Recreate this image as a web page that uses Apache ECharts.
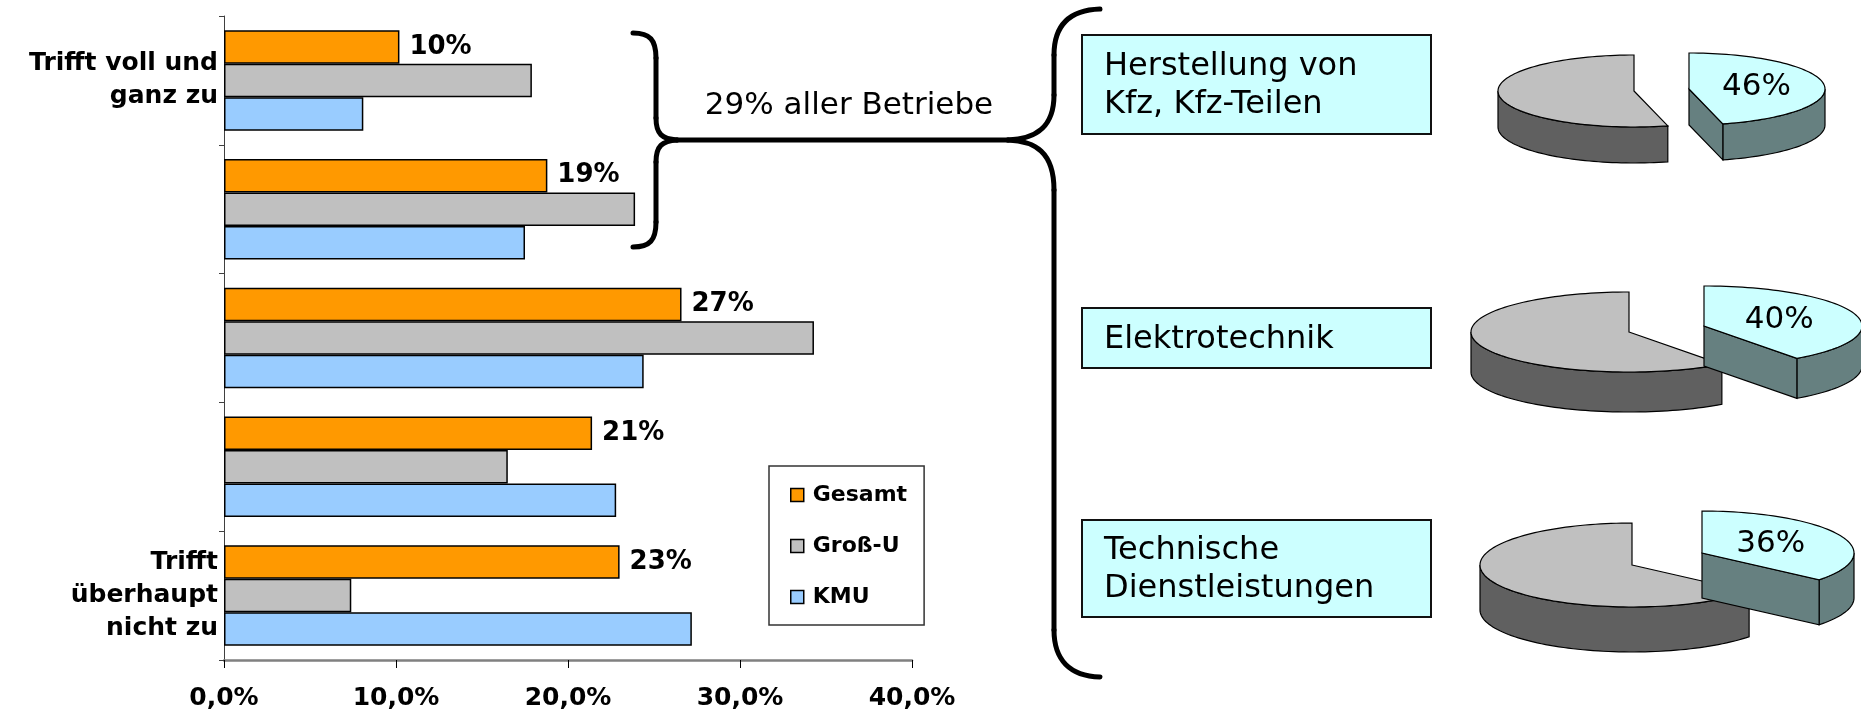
<!DOCTYPE html>
<html>
<head>
<meta charset="utf-8">
<title>Betriebe</title>
<script src="https://cdn.jsdelivr.net/npm/echarts@6/dist/echarts.min.js"></script>
<style>html,body{margin:0;padding:0;background:#fff;}</style>
</head>
<body>
<div id="main" style="width:1861px;height:714px;"></div>
<script type="text/javascript">
// Balkendiagramm: Anteile in Prozent
var categories = ['Trifft voll und\nganz zu', '', '', '', 'Trifft\nüberhaupt\nnicht zu'];
var gesamt = [10.2, 18.8, 26.6, 21.4, 23.0];
var grossU = [17.9, 23.9, 34.3, 16.5, 7.4];
var kmu = [8.1, 17.5, 24.4, 22.8, 27.2];
var xTicks = [0, 10, 20, 30, 40];

// Branchen rechts mit Tortendiagrammen
var branchen = ['Herstellung von\nKfz, Kfz-Teilen', 'Elektrotechnik', 'Technische\nDienstleistungen'];
var branchenAnteil = [46, 40, 36];

var FONT = '"DejaVu Sans", Verdana, sans-serif';

// Lage der Kästen und Torten (nur Layout)
var boxes = [{y: 35, h: 99}, {y: 308, h: 60}, {y: 520, h: 97}];
var pieLayout = [
    {cx: 1634, cy: 91, rx: 136, ry: 36, depth: 36, dx: 55, dy: -2},
    {cx: 1629, cy: 332, rx: 158, ry: 40, depth: 40, dx: 75, dy: -6},
    {cx: 1632, cy: 565, rx: 152, ry: 42, depth: 45, dx: 70, dy: -12}
];

var myChart = echarts.init(document.getElementById('main'), null, {renderer: 'canvas'});

function ellPt(cx, cy, rx, ry, deg) {
    var a = deg * Math.PI / 180;
    return [cx + rx * Math.sin(a), cy - ry * Math.cos(a)];
}
function arcPts(cx, cy, rx, ry, a0, a1, off) {
    var n = Math.max(2, Math.ceil(Math.abs(a1 - a0) / 2) + 1);
    var pts = [];
    for (var k = 0; k < n; k++) {
        var p = ellPt(cx, cy, rx, ry, a0 + (a1 - a0) * k / (n - 1));
        pts.push([p[0], p[1] + off]);
    }
    return pts;
}
function poly(points, fill) {
    return {type: 'polygon', shape: {points: points}, style: {fill: fill, stroke: '#000', lineWidth: 1.2}};
}
function slice(out, L, cx, cy, a0, a1, top, side) {
    var w0 = Math.max(a0, 90), w1 = Math.min(a1, 270);
    if (w1 > w0) {
        var up = arcPts(cx, cy, L.rx, L.ry, w0, w1, 0);
        var dn = arcPts(cx, cy, L.rx, L.ry, w1, w0, L.depth);
        out.push(poly(up.concat(dn), side));
    }
    if (a1 > 0 && a1 < 180) {
        var p = ellPt(cx, cy, L.rx, L.ry, a1);
        out.push(poly([[cx, cy], p, [p[0], p[1] + L.depth], [cx, cy + L.depth]], side));
    }
    if (a0 > 180 && a0 < 360) {
        var q = ellPt(cx, cy, L.rx, L.ry, a0);
        out.push(poly([[cx, cy], q, [q[0], q[1] + L.depth], [cx, cy + L.depth]], side));
    }
    out.push(poly([[cx, cy]].concat(arcPts(cx, cy, L.rx, L.ry, a0, a1, 0)), top));
}
function renderPie(params, api) {
    var i = api.value(0), share = api.value(1);
    var L = pieLayout[i];
    var cut = share / 100 * 360;
    var children = [];
    slice(children, L, L.cx, L.cy, cut, 360, '#C0C0C0', '#606060');
    var sx = L.cx + L.dx, sy = L.cy + L.dy;
    slice(children, L, sx, sy, 0, cut, '#CCFFFF', '#668080');
    var lp = ellPt(sx, sy, L.rx * 0.5, L.ry * 0.5, cut / 2);
    children.push({
        type: 'text',
        style: {text: share + '%', x: lp[0], y: lp[1], font: '31px ' + FONT, fill: '#000',
            align: 'center', verticalAlign: 'middle', textAlign: 'center', textVerticalAlign: 'middle'}
    });
    return {type: 'group', children: children};
}

// Klammern, Text und Kästen
var strokeStyle = {fill: null, stroke: '#000', lineWidth: 5, lineCap: 'round'};
function bz(a, b, c, d) {
    return {type: 'bezierCurve', shape: {x1: a[0], y1: a[1], cpx1: b[0], cpy1: b[1],
        cpx2: c[0], cpy2: c[1], x2: d[0], y2: d[1]}, style: strokeStyle};
}
function ln(a, b) {
    return {type: 'line', shape: {x1: a[0], y1: a[1], x2: b[0], y2: b[1]}, style: strokeStyle};
}
var graphics = [
    bz([633, 33], [650, 33], [656, 40], [656, 58]),
    ln([656, 58], [656, 118]),
    bz([656, 118], [656, 134], [662, 139], [677, 140]),
    bz([677, 140], [662, 141], [656, 146], [656, 162]),
    ln([656, 162], [656, 222]),
    bz([656, 222], [656, 240], [650, 247], [633, 247]),
    ln([677, 140], [1008, 140]),
    bz([1100, 9], [1070, 10], [1054, 25], [1054, 55]),
    ln([1054, 55], [1054, 95]),
    bz([1054, 95], [1054, 128], [1035, 139], [1008, 140]),
    bz([1008, 140], [1035, 141], [1054, 152], [1054, 190]),
    ln([1054, 190], [1054, 630]),
    bz([1054, 630], [1054, 660], [1070, 676], [1100, 677])
];
var gruppe = Math.round(gesamt[0]) + Math.round(gesamt[1]);
graphics.push({type: 'text', style: {text: gruppe + '% aller Betriebe', x: 849, y: 106,
    font: '31px ' + FONT, fill: '#000', align: 'center', verticalAlign: 'middle',
    textAlign: 'center', textVerticalAlign: 'middle'}});
branchen.forEach(function (name, i) {
    var b = boxes[i];
    graphics.push({type: 'rect', shape: {x: 1082, y: b.y, width: 349, height: b.h},
        style: {fill: '#CCFFFF', stroke: '#111', lineWidth: 2}});
    graphics.push({type: 'text', style: {text: name, x: 1104, y: b.y + b.h / 2 + 1.5,
        font: '32px ' + FONT, lineHeight: 38, fill: '#000', align: 'left', verticalAlign: 'middle',
        textAlign: 'left', textVerticalAlign: 'middle'}});
});

function barSeries(name, data, color, withLabel) {
    return {
        name: name,
        type: 'bar',
        data: data,
        barGap: '0%',
        barCategoryGap: '22%',
        itemStyle: {color: color, borderColor: '#000', borderWidth: 1.5},
        emphasis: {disabled: true},
        label: {
            show: withLabel,
            position: 'right',
            distance: 10,
            color: '#000',
            fontFamily: FONT,
            fontWeight: 'bold',
            fontSize: 26,
            formatter: function (p) { return Math.round(p.value) + '%'; }
        }
    };
}

var option = {
    animation: false,
    backgroundColor: '#fff',
    grid: {left: 224, right: 949, top: 16, bottom: 54},
    legend: {
        data: ['Gesamt', 'Groß-U', 'KMU'],
        orient: 'vertical',
        left: 769,
        top: 466,
        padding: [18, 17, 17, 21],
        itemWidth: 13,
        itemHeight: 13,
        itemGap: 29,
        icon: 'rect',
        backgroundColor: '#fff',
        borderColor: '#333',
        borderWidth: 1.5,
        itemStyle: {borderColor: '#000', borderWidth: 1.5},
        selectedMode: false,
        textStyle: {fontFamily: FONT, fontWeight: 'bold', fontSize: 22, lineHeight: 22,
            color: '#000', padding: [0, 0, 0, 4]}
    },
    xAxis: {
        type: 'value',
        min: xTicks[0],
        max: xTicks[xTicks.length - 1],
        interval: xTicks[1] - xTicks[0],
        axisLine: {show: true, lineStyle: {color: '#808080', width: 2.5}},
        axisTick: {show: true, length: 8, lineStyle: {color: '#000', width: 1}},
        splitLine: {show: false},
        axisLabel: {
            margin: 26,
            color: '#000',
            fontFamily: FONT,
            fontWeight: 'bold',
            fontSize: 25,
            formatter: function (v) { return v.toFixed(1).replace('.', ',') + '%'; }
        }
    },
    yAxis: {
        type: 'category',
        data: categories,
        inverse: true,
        axisLine: {show: true, lineStyle: {color: '#404040', width: 1}},
        axisTick: {show: true, length: 5, lineStyle: {color: '#404040'}},
        axisLabel: {interval: 0, margin: 6, color: '#000', fontFamily: FONT,
            fontWeight: 'bold', fontSize: 25, lineHeight: 33}
    },
    graphic: graphics,
    series: [
        barSeries('Gesamt', gesamt, '#FF9900', true),
        barSeries('Groß-U', grossU, '#C0C0C0', false),
        barSeries('KMU', kmu, '#99CCFF', false),
        {
            type: 'custom',
            coordinateSystem: 'none',
            renderItem: renderPie,
            data: branchenAnteil.map(function (v, i) { return [i, v]; }),
            silent: true
        }
    ]
};

myChart.setOption(option);
</script>
</body>
</html>
